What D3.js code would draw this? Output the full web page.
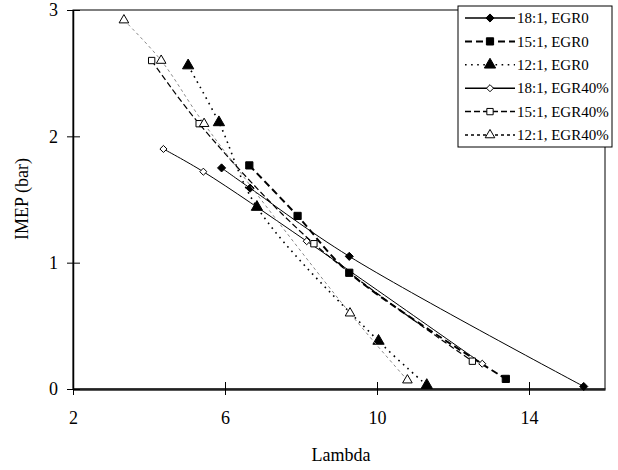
<!DOCTYPE html>
<html>
<head>
<meta charset="utf-8">
<script src="https://cdn.jsdelivr.net/npm/d3@7"></script>
<style>
body { margin: 0; background: #fff; }
text { font-family: "Liberation Serif", "Times New Roman", serif; fill: #000; }
</style>
</head>
<body>
<svg id="chart"></svg>
<script>
const width = 618;
const height = 470;

const seriesNames = ['18:1, EGR0', '15:1, EGR0', '12:1, EGR0', '18:1, EGR40%', '15:1, EGR40%', '12:1, EGR40%'];
const lambda18Egr0 = [5.91, 6.66, 9.27, 15.44];
const imep18Egr0 = [1.75, 1.59, 1.05, 0.02];
const lambda15Egr0 = [6.64, 7.91, 9.27, 13.39];
const imep15Egr0 = [1.77, 1.37, 0.92, 0.08];
const lambda12Egr0 = [5.03, 5.84, 6.84, 10.04, 11.31];
const imep12Egr0 = [2.56, 2.11, 1.44, 0.38, 0.03];
const lambda18Egr40 = [4.38, 5.43, 8.15, 12.77];
const imep18Egr40 = [1.90, 1.72, 1.17, 0.20];
const lambda15Egr40 = [4.07, 5.32, 8.34, 12.51];
const imep15Egr40 = [2.60, 2.10, 1.15, 0.22];
const lambda12Egr40 = [3.34, 4.32, 5.45, 9.29, 10.80];
const imep12Egr40 = [2.92, 2.60, 2.10, 0.60, 0.07];
const xTicks = [2, 6, 10, 14];
const yTicks = [0, 1, 2, 3];

const styles = [
    { stroke: '#000', width: 1, dash: null, symbol: d3.symbolDiamond2, size: 42, fill: '#000' },
    { stroke: '#000', width: 2, dash: '7,4', symbol: d3.symbolSquare, size: 52, fill: '#000' },
    { stroke: '#000', width: 1.6, dash: '1.6,4.5', symbol: d3.symbolTriangle, size: 55, fill: '#000' },
    { stroke: '#000', width: 1, dash: null, symbol: d3.symbolDiamond2, size: 32, fill: '#fff' },
    { stroke: '#000', width: 1.2, dash: '6,3', symbol: d3.symbolSquare, size: 40, fill: '#fff' },
    { stroke: '#888', width: 1, dash: '3,3', symbol: d3.symbolTriangle, size: 40, fill: '#fff' }
];

const series = [
    [lambda18Egr0, imep18Egr0],
    [lambda15Egr0, imep15Egr0],
    [lambda12Egr0, imep12Egr0],
    [lambda18Egr40, imep18Egr40],
    [lambda15Egr40, imep15Egr40],
    [lambda12Egr40, imep12Egr40]
].map(([xs, ys], i) => ({
    name: seriesNames[i],
    style: styles[i],
    points: xs.map((x, j) => ({ x: x, y: ys[j] }))
}));

const margin = { left: 73, right: 13, top: 10, bottom: 81 };
const x = d3.scaleLinear().domain([2, 16]).range([margin.left, width - margin.right]);
const y = d3.scaleLinear().domain([0, 3]).range([height - margin.bottom, margin.top]);

const svg = d3.select('#chart')
    .attr('width', width)
    .attr('height', height);

// plot frame
svg.append('rect')
    .attr('x', x(2))
    .attr('y', y(3))
    .attr('width', x(16) - x(2))
    .attr('height', y(0) - y(3))
    .attr('fill', 'none')
    .attr('stroke', '#000')
    .attr('stroke-width', 1);

const serif = '"Liberation Serif", "Times New Roman", serif';

const xAxis = svg.append('g')
    .attr('transform', `translate(0,${y(0)})`)
    .attr('font-family', serif)
    .call(d3.axisBottom(x).tickValues(xTicks).tickFormat(d3.format('d')).tickSize(6).tickSizeOuter(0).tickPadding(16));
xAxis.select('.domain').attr('stroke', '#222').attr('stroke-width', 2.5);
xAxis.selectAll('.tick line').attr('y1', -7).attr('y2', 6);
xAxis.selectAll('text').style('font-size', '18px').style('font-family', serif);

const yAxis = svg.append('g')
    .attr('transform', `translate(${x(2)},0)`)
    .attr('font-family', serif)
    .call(d3.axisLeft(y).tickValues(yTicks).tickFormat(d3.format('d')).tickSize(6).tickSizeOuter(0).tickPadding(9));
yAxis.select('.domain').attr('stroke-width', 1.5);
yAxis.selectAll('.tick line').attr('x1', -6).attr('x2', 7);
yAxis.selectAll('text').style('font-size', '18px').style('font-family', serif);

svg.append('text')
    .attr('x', 341)
    .attr('y', 461)
    .attr('text-anchor', 'middle')
    .style('font-size', '18px')
    .text('Lambda');

svg.append('text')
    .attr('transform', 'translate(28,199) rotate(-90)')
    .attr('text-anchor', 'middle')
    .style('font-size', '18px')
    .text('IMEP (bar)');

const line = d3.line()
    .x(d => x(d.x))
    .y(d => y(d.y))
    .curve(d3.curveCatmullRom.alpha(0.5));

const group = svg.selectAll('g.series')
    .data(series)
    .enter().append('g')
    .classed('series', true);

group.append('path')
    .attr('d', d => line(d.points))
    .attr('fill', 'none')
    .attr('stroke', d => d.style.stroke)
    .attr('stroke-width', d => d.style.width)
    .attr('stroke-dasharray', d => d.style.dash);

group.selectAll('path.mark')
    .data(d => d.points.map(p => ({ p: p, style: d.style })))
    .enter().append('path')
    .classed('mark', true)
    .attr('transform', d => `translate(${x(d.p.x)},${y(d.p.y)})`)
    .attr('d', d => d3.symbol().type(d.style.symbol).size(d.style.size)())
    .attr('fill', d => d.style.fill)
    .attr('stroke', '#000')
    .attr('stroke-width', 1);

// legend
const legend = svg.append('g').attr('transform', 'translate(458,6)');
legend.append('rect')
    .attr('width', 154)
    .attr('height', 141)
    .attr('fill', '#fff')
    .attr('stroke', '#000');

const item = legend.selectAll('g')
    .data(series)
    .enter().append('g')
    .attr('transform', (_, i) => `translate(0,${12 + i * 23.4})`);
item.append('line')
    .attr('x1', 7)
    .attr('x2', 57)
    .attr('stroke', '#000')
    .attr('stroke-width', d => Math.max(d.style.width, 1.5))
    .attr('stroke-dasharray', d => d.style.dash);
item.append('path')
    .attr('transform', 'translate(32,0)')
    .attr('d', d => d3.symbol().type(d.style.symbol).size(d.style.size)())
    .attr('fill', d => d.style.fill)
    .attr('stroke', '#000');
item.append('text')
    .attr('x', 59)
    .attr('dy', '0.35em')
    .style('font-size', '15px')
    .text(d => d.name);
</script>
</body>
</html>
